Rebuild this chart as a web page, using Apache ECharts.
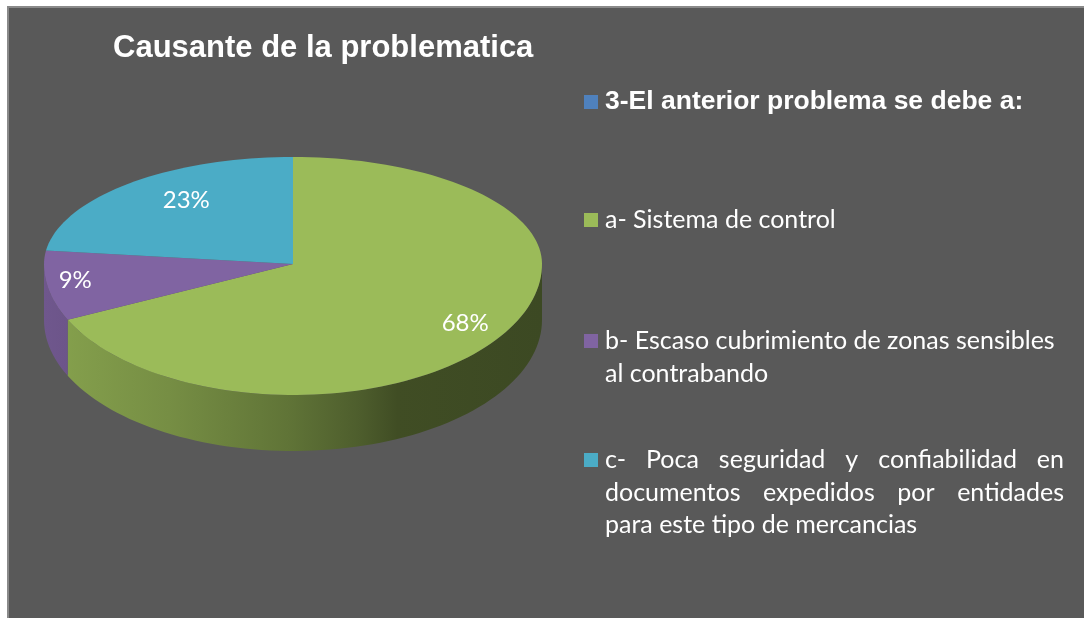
<!DOCTYPE html>
<html>
<head>
<meta charset="utf-8">
<script src="https://cdn.jsdelivr.net/npm/echarts@6/dist/echarts.min.js"></script>
<style>
html, body { margin: 0; padding: 0; background: #fff; }
#main { width: 1084px; height: 618px; }
</style>
</head>
<body>
<div id="main"></div>
<script>
// datos del gráfico
const titleText = 'Causante de la problematica';
const categories = [
    '3-El anterior problema se debe a:',
    'a- Sistema de control',
    'b- Escaso cubrimiento de zonas sensibles al contrabando',
    'c- Poca seguridad y confiabilidad en documentos expedidos por entidades para este tipo de mercancias'
];
const percents = [0, 68, 9, 23];

// estilo
const colors = ['#4f81bd', '#9bbb59', '#8064a2', '#4bacc6'];
const CX = 293, CY = 264, RX = 249, RY_TOP = 107, RY_BOT = 131, DEPTH = 56;
const LABEL_K = 0.8;
const labelNudge = [[0, 0], [4, 3], [-21, 0], [25, 0]];
const LEG_BOX_X = 584, LEG_TEXT_X = 605, LEG_TEXT_R = 1064, LINE_H = 32.5;
const legendRowY = [102, 220, 341, 460];
const justified = [false, false, false, true];
const ITEM_FONT = 25, HEAD_FONT = 26.5;

const total = percents.reduce((s, v) => s + v, 0);
const starts = [];
let acc = 0;
percents.forEach(v => { starts.push(acc / total * 360); acc += v; });

function rim(deg, dy) {
    const r = deg * Math.PI / 180;
    const c = Math.cos(r);
    const ry = c > 0 ? RY_TOP : RY_BOT;
    return [CX + RX * Math.sin(r), CY - ry * c + (dy || 0)];
}
function arc(a0, a1, dy) {
    const pts = [];
    const n = Math.max(2, Math.ceil((a1 - a0) / 2));
    for (let i = 0; i <= n; i++) pts.push(rim(a0 + (a1 - a0) * i / n, dy));
    return pts;
}
function shade(hex, f) {
    const n = parseInt(hex.slice(1), 16);
    const r = Math.round(((n >> 16) & 255) * f);
    const g = Math.round(((n >> 8) & 255) * f);
    const b = Math.round((n & 255) * f);
    return 'rgb(' + r + ',' + g + ',' + b + ')';
}
// lateral del pastel: degradado de claro (izq) a oscuro (der)
function sideFill(i) {
    const stops = [[0, 0.87], [0.04, 0.85], [0.25, 0.76], [0.49, 0.62], [0.63, 0.5], [0.71, 0.41], [1, 0.39]];
    return {
        type: 'linear', global: true,
        x: CX - RX, y: 0, x2: CX + RX, y2: 0,
        colorStops: stops.map(s => ({ offset: s[0], color: shade(colors[i], s[1]) }))
    };
}

const renderSlice = (params, api) => {
    const i = params.dataIndex;
    const v = api.value(0);
    if (!v) return null;
    const a0 = starts[i], a1 = a0 + v / total * 360;
    const children = [];
    const s0 = Math.max(a0, 90), s1 = Math.min(a1, 270);
    if (s1 > s0) {
        const top = arc(s0, s1, 0);
        const bot = arc(s0, s1, DEPTH).reverse();
        children.push({ type: 'polygon', shape: { points: top.concat(bot) }, style: { fill: sideFill(i) } });
    }
    children.push({
        type: 'polygon',
        shape: { points: [[CX, CY]].concat(arc(a0, a1, 0)) },
        style: { fill: colors[i] }
    });
    const p = rim((a0 + a1) / 2, 0);
    children.push({
        type: 'text',
        x: CX + (p[0] - CX) * LABEL_K + labelNudge[i][0],
        y: CY + (p[1] - CY) * LABEL_K + labelNudge[i][1],
        style: {
            text: Math.round(v / total * 100) + '%',
            fill: '#ffffff', fontSize: 24, fontFamily: 'Lato',
            align: 'center', verticalAlign: 'middle'
        }
    });
    return { type: 'group', children: children };
};

// leyenda dibujada a mano (texto justificado como en Excel)
const ctx = document.createElement('canvas').getContext('2d');
function wrap(text, font, maxW) {
    ctx.font = font;
    const words = text.split(' ');
    const lines = [];
    let cur = [];
    words.forEach(w => {
        const test = cur.concat([w]).join(' ');
        if (cur.length && ctx.measureText(test).width > maxW) {
            lines.push(cur);
            cur = [w];
        } else {
            cur.push(w);
        }
    });
    if (cur.length) lines.push(cur);
    return lines;
}

const legendEls = [];
categories.forEach((name, i) => {
    const y0 = legendRowY[i];
    legendEls.push({
        type: 'rect',
        shape: { x: LEG_BOX_X, y: y0 - 7, width: 14, height: 14 },
        style: { fill: colors[i] }
    });
    const head = i === 0;
    const fontFamily = head ? 'Liberation Sans' : 'Lato';
    const fontSize = head ? HEAD_FONT : ITEM_FONT;
    const fontWeight = head ? 'bold' : 'normal';
    const font = fontWeight + ' ' + fontSize + 'px ' + fontFamily;
    const lines = wrap(name, font, LEG_TEXT_R - LEG_TEXT_X);
    lines.forEach((words, li) => {
        const y = y0 + li * LINE_H;
        const base = { fill: '#ffffff', fontSize: fontSize, fontFamily: fontFamily, fontWeight: fontWeight, verticalAlign: 'middle' };
        if (justified[i] && li < lines.length - 1 && words.length > 1) {
            ctx.font = font;
            const ws = words.map(w => ctx.measureText(w).width);
            const sum = ws.reduce((s, w) => s + w, 0);
            const gap = (LEG_TEXT_R - LEG_TEXT_X - sum) / (words.length - 1);
            let x = LEG_TEXT_X;
            words.forEach((w, k) => {
                legendEls.push({ type: 'text', x: x, y: y, style: Object.assign({ text: w }, base) });
                x += ws[k] + gap;
            });
        } else {
            legendEls.push({ type: 'text', x: LEG_TEXT_X, y: y, style: Object.assign({ text: words.join(' ') }, base) });
        }
    });
});

const myChart = echarts.init(document.getElementById('main'));
const option = {
    backgroundColor: '#ffffff',
    animation: false,
    title: {
        text: titleText,
        left: 113,
        top: 33,
        padding: 0,
        textStyle: { color: '#ffffff', fontSize: 31, fontWeight: 'bold', fontFamily: 'Liberation Sans' }
    },
    graphic: [
        {
            type: 'rect', z: -10,
            shape: { x: 8, y: 7, width: 1080, height: 615 },
            style: { fill: '#595959', stroke: '#8a8a8a', lineWidth: 2 }
        }
    ].concat(legendEls),
    series: [
        {
            type: 'custom',
            name: titleText,
            coordinateSystem: 'none',
            renderItem: renderSlice,
            data: percents.map(v => [v])
        }
    ]
};
myChart.setOption(option);
</script>
</body>
</html>
